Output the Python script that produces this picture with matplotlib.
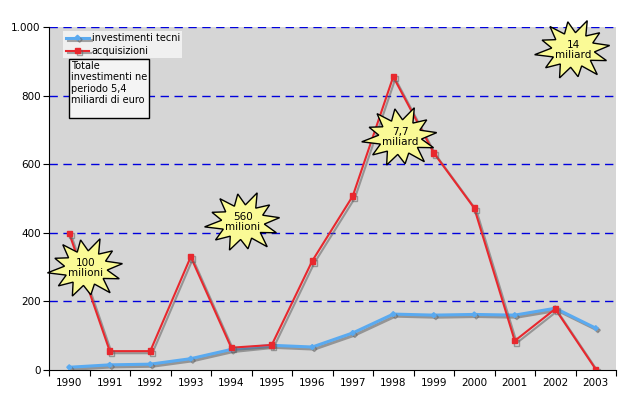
import matplotlib
matplotlib.use("Agg")
import matplotlib.pyplot as plt
import matplotlib.patheffects as pe
import matplotlib.transforms as mtransforms
from matplotlib.patches import Polygon
from matplotlib.ticker import FixedLocator, FuncFormatter
import numpy as np

# dati
anni = ["1990", "1991", "1992", "1993", "1994", "1995", "1996",
        "1997", "1998", "1999", "2000", "2001", "2002", "2003"]
investimenti_tecni = [8, 15, 17, 33, 60, 72, 67, 108, 163, 160, 162, 160, 180, 122]
acquisizioni = [398, 55, 55, 330, 65, 73, 318, 507, 855, 633, 472, 85, 178, 2]

# etichette delle stelle (anno, valore)
stelle_testo = ["100\nmilioni", "560\nmilioni", "7,7\nmiliard", "14\nmiliard"]
stelle_x = [0.41, 4.29, 8.17, 12.44]
stelle_y = [297, 431, 679, 933]

fig = plt.figure(figsize=(6.43, 3.95), dpi=100)
ax = fig.add_axes([49/643, 1-370/395, 567/643, 343/395])
ax.set_facecolor("#d6d6d6")

x = np.arange(len(anni))
ombra = [pe.SimpleLineShadow(offset=(1.5, -1.5), shadow_color="#606060", alpha=0.55), pe.Normal()]

ax.plot(x, investimenti_tecni, color="#5aaaf0", lw=2.2, marker="D", ms=2.5,
        label="investimenti tecni", path_effects=ombra, zorder=3)
ax.plot(x, acquisizioni, color="#e8282e", lw=1.5, marker="s", ms=3.8,
        label="acquisizioni", path_effects=ombra, zorder=4)

ax.set_xlim(-0.5, len(anni) - 0.5)
ax.set_ylim(0, 1000)

ax.set_yticks([0, 200, 400, 600, 800, 1000])
ax.yaxis.set_major_formatter(FuncFormatter(lambda v, p: f"{int(v):,}".replace(",", ".")))
for yv in [200, 400, 600, 800, 1000]:
    ax.axhline(yv, color="#0000dd", lw=1, ls=(0, (6, 4)), zorder=1)

ax.xaxis.set_major_locator(FixedLocator(np.arange(-0.5, len(anni), 1.0)))
ax.xaxis.set_major_formatter(FuncFormatter(lambda v, p: ""))
ax.xaxis.set_minor_locator(FixedLocator(x))
ax.set_xticklabels(anni, minor=True)
ax.tick_params(axis="x", which="minor", length=0, pad=6, labelsize=7.5)
ax.tick_params(axis="x", which="major", length=4, direction="out")
ax.tick_params(axis="y", length=4, direction="out", labelsize=7.5, pad=2)

for s in ["top", "right"]:
    ax.spines[s].set_visible(False)

leg = ax.legend(loc="upper left", bbox_to_anchor=(0.022, 0.995), fontsize=7,
                frameon=True, fancybox=False, handlelength=2.4, handletextpad=0.25,
                borderpad=0.25, labelspacing=0.3, borderaxespad=0.2)
leg.get_frame().set_facecolor("#f0f0f0")
leg.get_frame().set_edgecolor("none")
leg.get_frame().set_alpha(1)

ax.text(0.039, 0.9, "Totale\ninvestimenti ne\nperiodo 5,4\nmiliardi di euro\n",
        transform=ax.transAxes, fontsize=7, va="top", ha="left", linespacing=1.15,
        bbox=dict(boxstyle="square,pad=0.2", facecolor="#f4f4f4", edgecolor="black", lw=1),
        zorder=6)

# stelle gialle
fig.canvas.draw()
n = 12
ang = np.linspace(0, 2*np.pi, 2*n, endpoint=False) + 0.15
raggio = np.where(np.arange(2*n) % 2 == 0, 1.0, 0.58)
irreg = np.array([1.0, 1, 0.92, 1, 1.05, 1, 0.95, 1, 1.0, 1, 0.9, 1,
                  1.05, 1, 0.95, 1, 1.0, 1, 0.9, 1, 1.05, 1, 0.97, 1])
for testo, sx, sy in zip(stelle_testo, stelle_x, stelle_y):
    cx, cy = ax.transData.transform((sx, sy))
    vx = cx + 37 * raggio * irreg * np.cos(ang)
    vy = cy + 30 * raggio * irreg * np.sin(ang)
    stella = Polygon(np.column_stack([vx, vy]), closed=True,
                     transform=mtransforms.IdentityTransform(),
                     facecolor="#fafa96", edgecolor="black", lw=1, zorder=7, clip_on=False)
    ax.add_patch(stella)
    ax.text(sx, sy, testo, ha="center", va="center", fontsize=7.5,
            linespacing=1.0, zorder=8)

fig.savefig("out.png", dpi=100)
